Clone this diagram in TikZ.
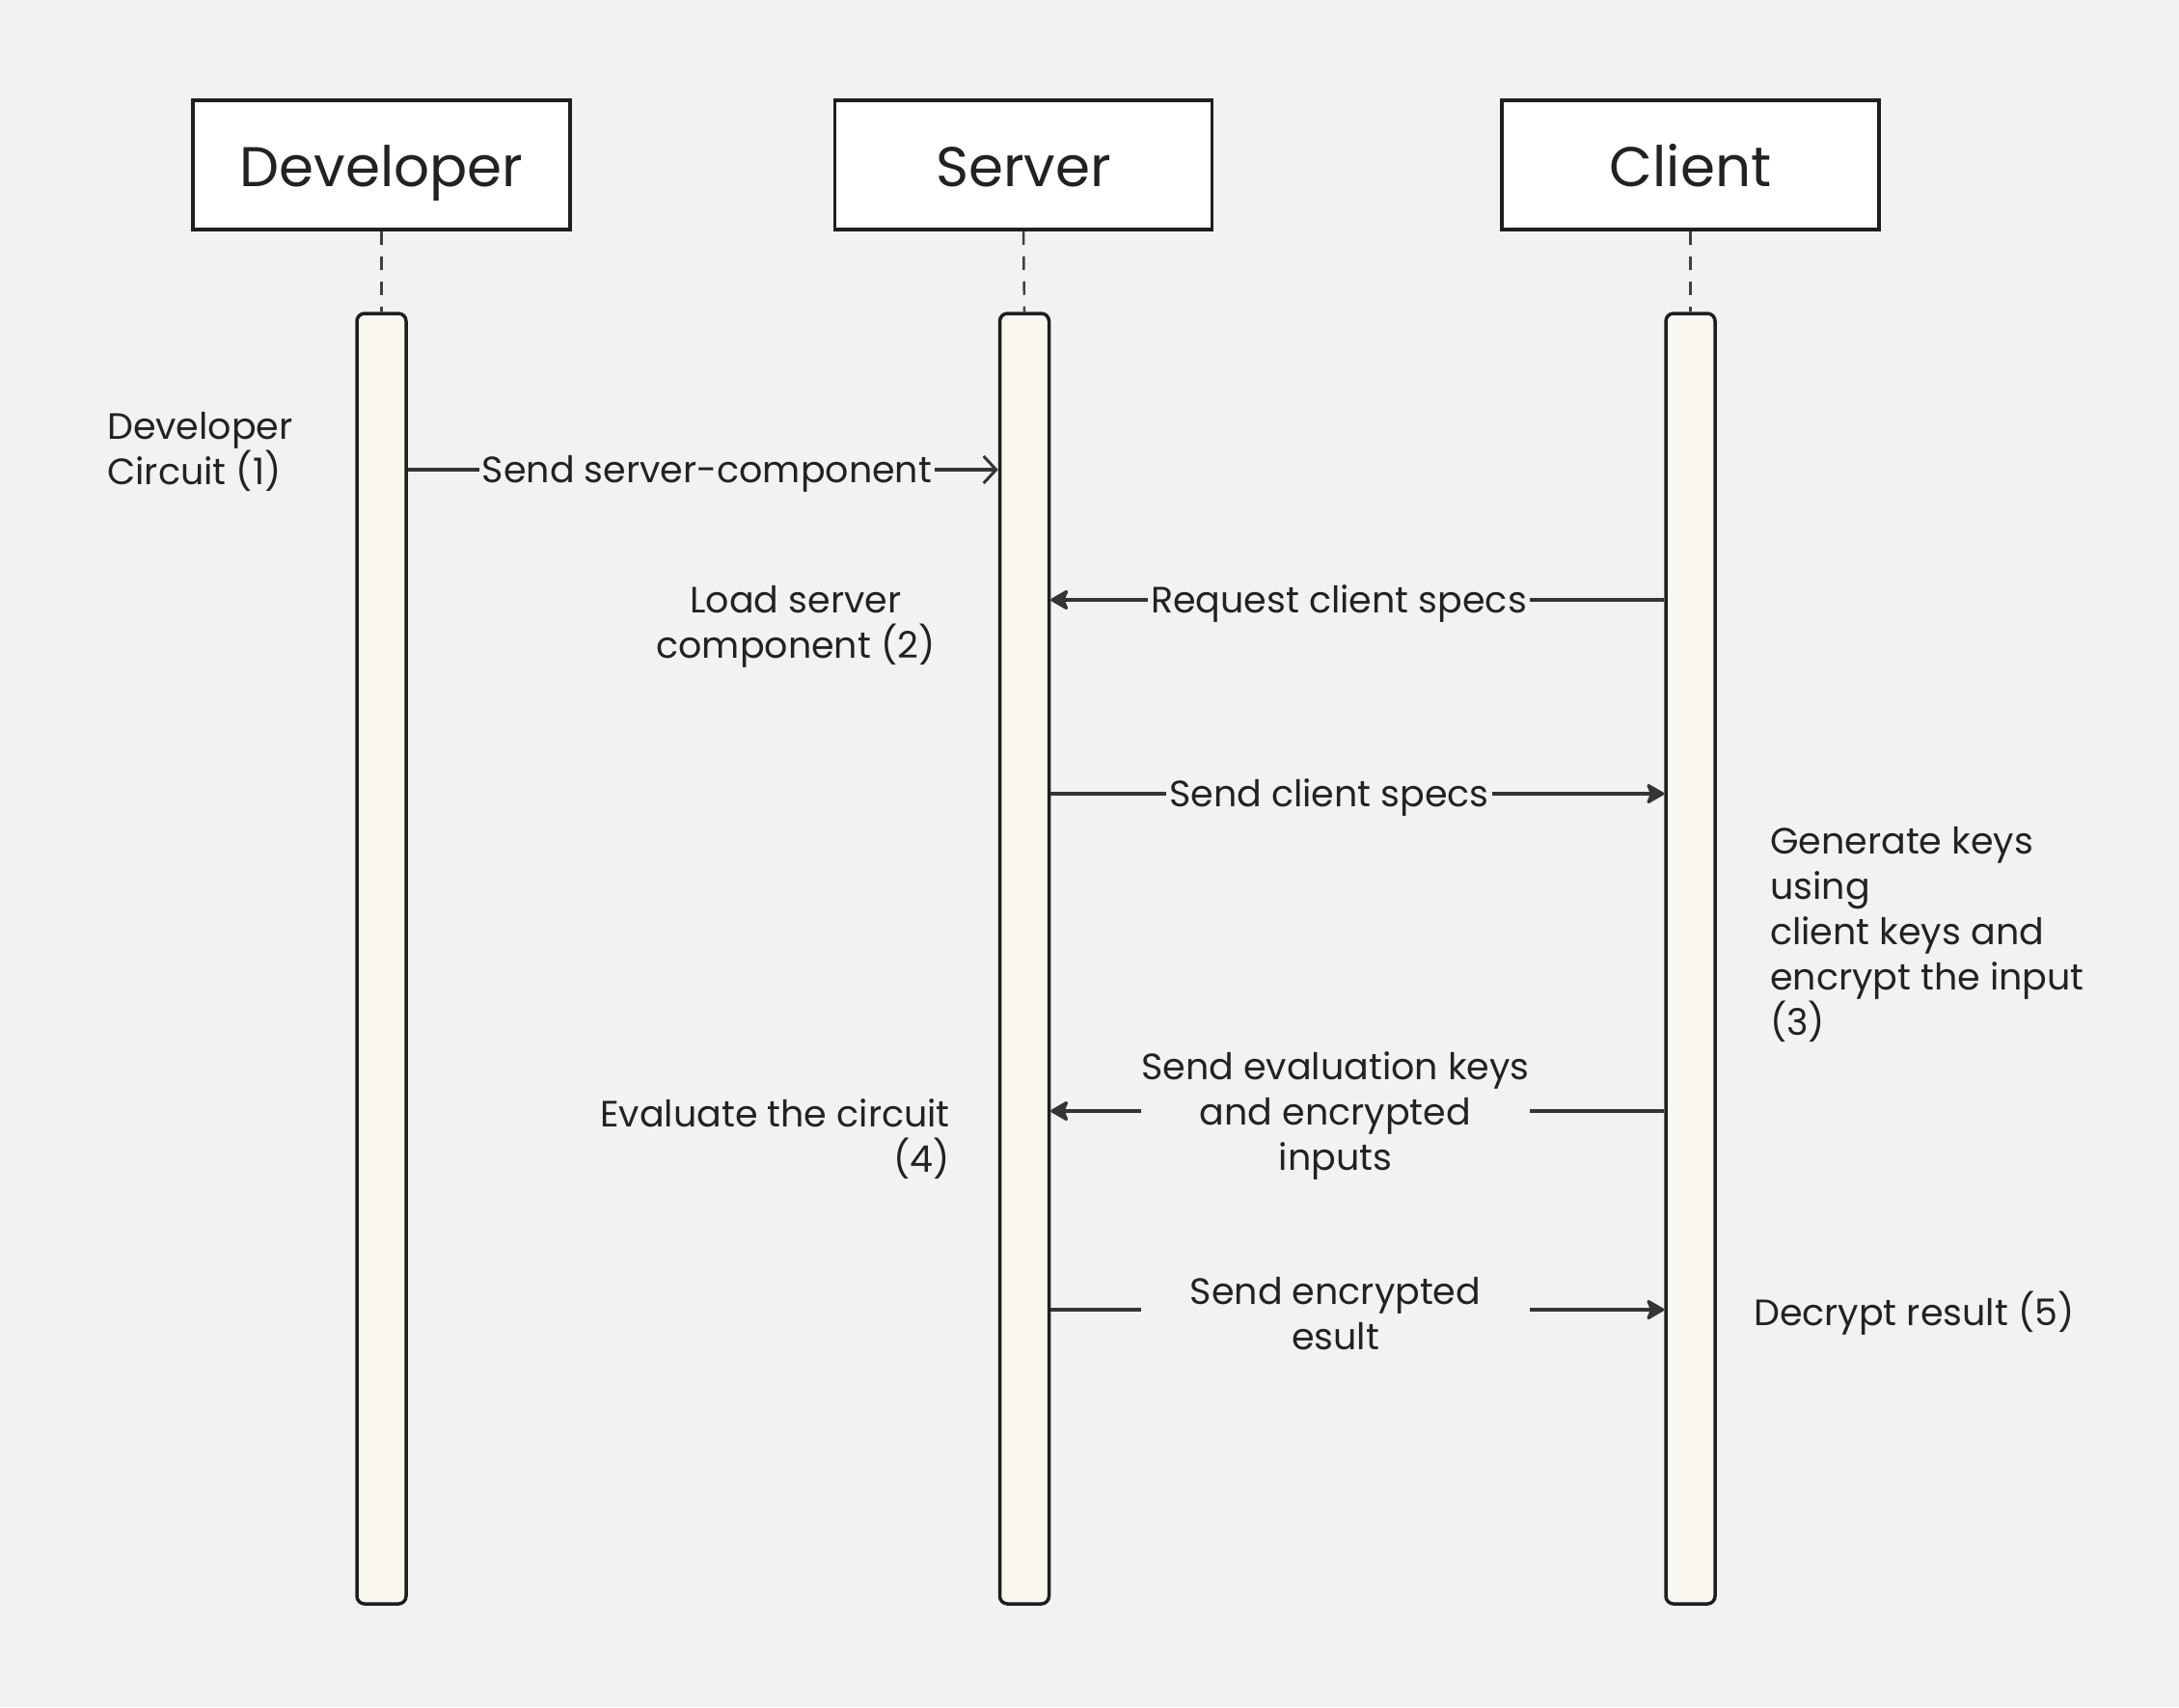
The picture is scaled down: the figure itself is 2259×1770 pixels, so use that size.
\documentclass[tikz,border=0pt]{standalone}
\usepackage{fontspec}
\setmainfont{Poppins}
\usetikzlibrary{arrows.meta}
\definecolor{bgc}{HTML}{F2F2F2}
\definecolor{barc}{HTML}{FAF7F0}
\definecolor{inkc}{HTML}{1E1E1E}
\definecolor{txtc}{HTML}{222226}
\tikzset{
  hdr/.style={draw=inkc, line width=3.5pt, fill=white, minimum width=391pt, minimum height=134pt, inner sep=0pt, text=txtc, text height=56pt, text depth=12pt, font=\fontsize{58}{66}\selectfont},
  lifebar/.style={draw=inkc, line width=3.5pt, fill=barc, rounded corners=8pt, minimum width=51pt, minimum height=1338pt, inner sep=0pt},
  lifedash/.style={draw=inkc!85, line width=2.5pt, dash pattern=on 14pt off 12pt},
  msg/.style={draw=inkc!90, line width=3.2pt},
  openhead/.style={-{Straight Barb[length=13pt, width=28pt, line width=3pt]}},
  fillhead/.style={-{Stealth[length=21pt, width=24pt, inset=5pt, round]}},
  lbl/.style={fill=bgc, inner sep=3pt, text=txtc, text height=32pt, text depth=6pt, font=\fontsize{38}{47}\selectfont},
  mlbl/.style={fill=bgc, inner sep=0pt, minimum width=403pt, align=center, text=txtc, font=\fontsize{38}{47}\selectfont},
  side/.style={inner sep=0pt, text=txtc, font=\fontsize{38}{47}\selectfont}
}
\begin{document}
\begin{tikzpicture}[x=1pt, y=-1pt]
\useasboundingbox (0,0) rectangle (2259,1770);
\fill[bgc] (0,0) rectangle (2259,1770);

% headers
\node[hdr] (devH) at (395.5,171) {Developer};
\node[hdr] (srvH) at (1061,171) {Server};
\node[hdr] (cliH) at (1752.5,171) {Client};

% activation bars
\node[lifebar] (devB) at (395.5,994) {};
\node[lifebar] (srvB) at (1062,994) {};
\node[lifebar] (cliB) at (1752.5,994) {};

% dashed lifeline stubs
\draw[lifedash] (devH.south) -- (devB.north);
\draw[lifedash] (srvH.south) -- (srvB.north);
\draw[lifedash] (cliH.south) -- (cliB.north);

% message heights
\coordinate (y1) at (0,487);
\coordinate (y2) at (0,622);
\coordinate (y3) at (0,823);
\coordinate (y4) at (0,1152);
\coordinate (y5) at (0,1358);

% 1 Send server-component
\draw[msg, openhead] (devB.east |- y1) -- (srvB.west |- y1);
\node[lbl] (m1) at (733,487) {Send server-component};

% 2 Request client specs
\draw[msg, fillhead] (cliB.west |- y2) -- (srvB.east |- y2);
\node[lbl] (m2) at (1388,622) {Request client specs};

% 3 Send client specs
\draw[msg, fillhead] (srvB.east |- y3) -- (cliB.west |- y3);
\node[lbl] (m3) at (1378,823) {Send client specs};

% 4 Send evaluation keys
\draw[msg, fillhead] (cliB.west |- y4) -- (srvB.east |- y4);
\node[mlbl] (m4) at (1384.5,1157) {Send evaluation keys\\and encrypted\\inputs};

% 5 Send encrypted result
\draw[msg, fillhead] (srvB.east |- y5) -- (cliB.west |- y5);
\node[mlbl] (m5) at (1384.5,1362) {Send encrypted\\esult};

% side notes
\node[side, anchor=west, align=left] (n1) at (111,468) {Developer\\Circuit (1)};
\node[side, align=center] (n2) at (825,650) {Load server\\component (2)};
\node[side, anchor=west, align=left] (n3) at (1835,969) {Generate keys\\using\\client keys and\\encrypt the input\\(3)};
\node[side, anchor=east, align=right] (n4) at (985,1181) {Evaluate the circuit\\(4)};
\node[side, anchor=west] (n5) at (1818,1362) {Decrypt result (5)};
\end{tikzpicture}
\end{document}
